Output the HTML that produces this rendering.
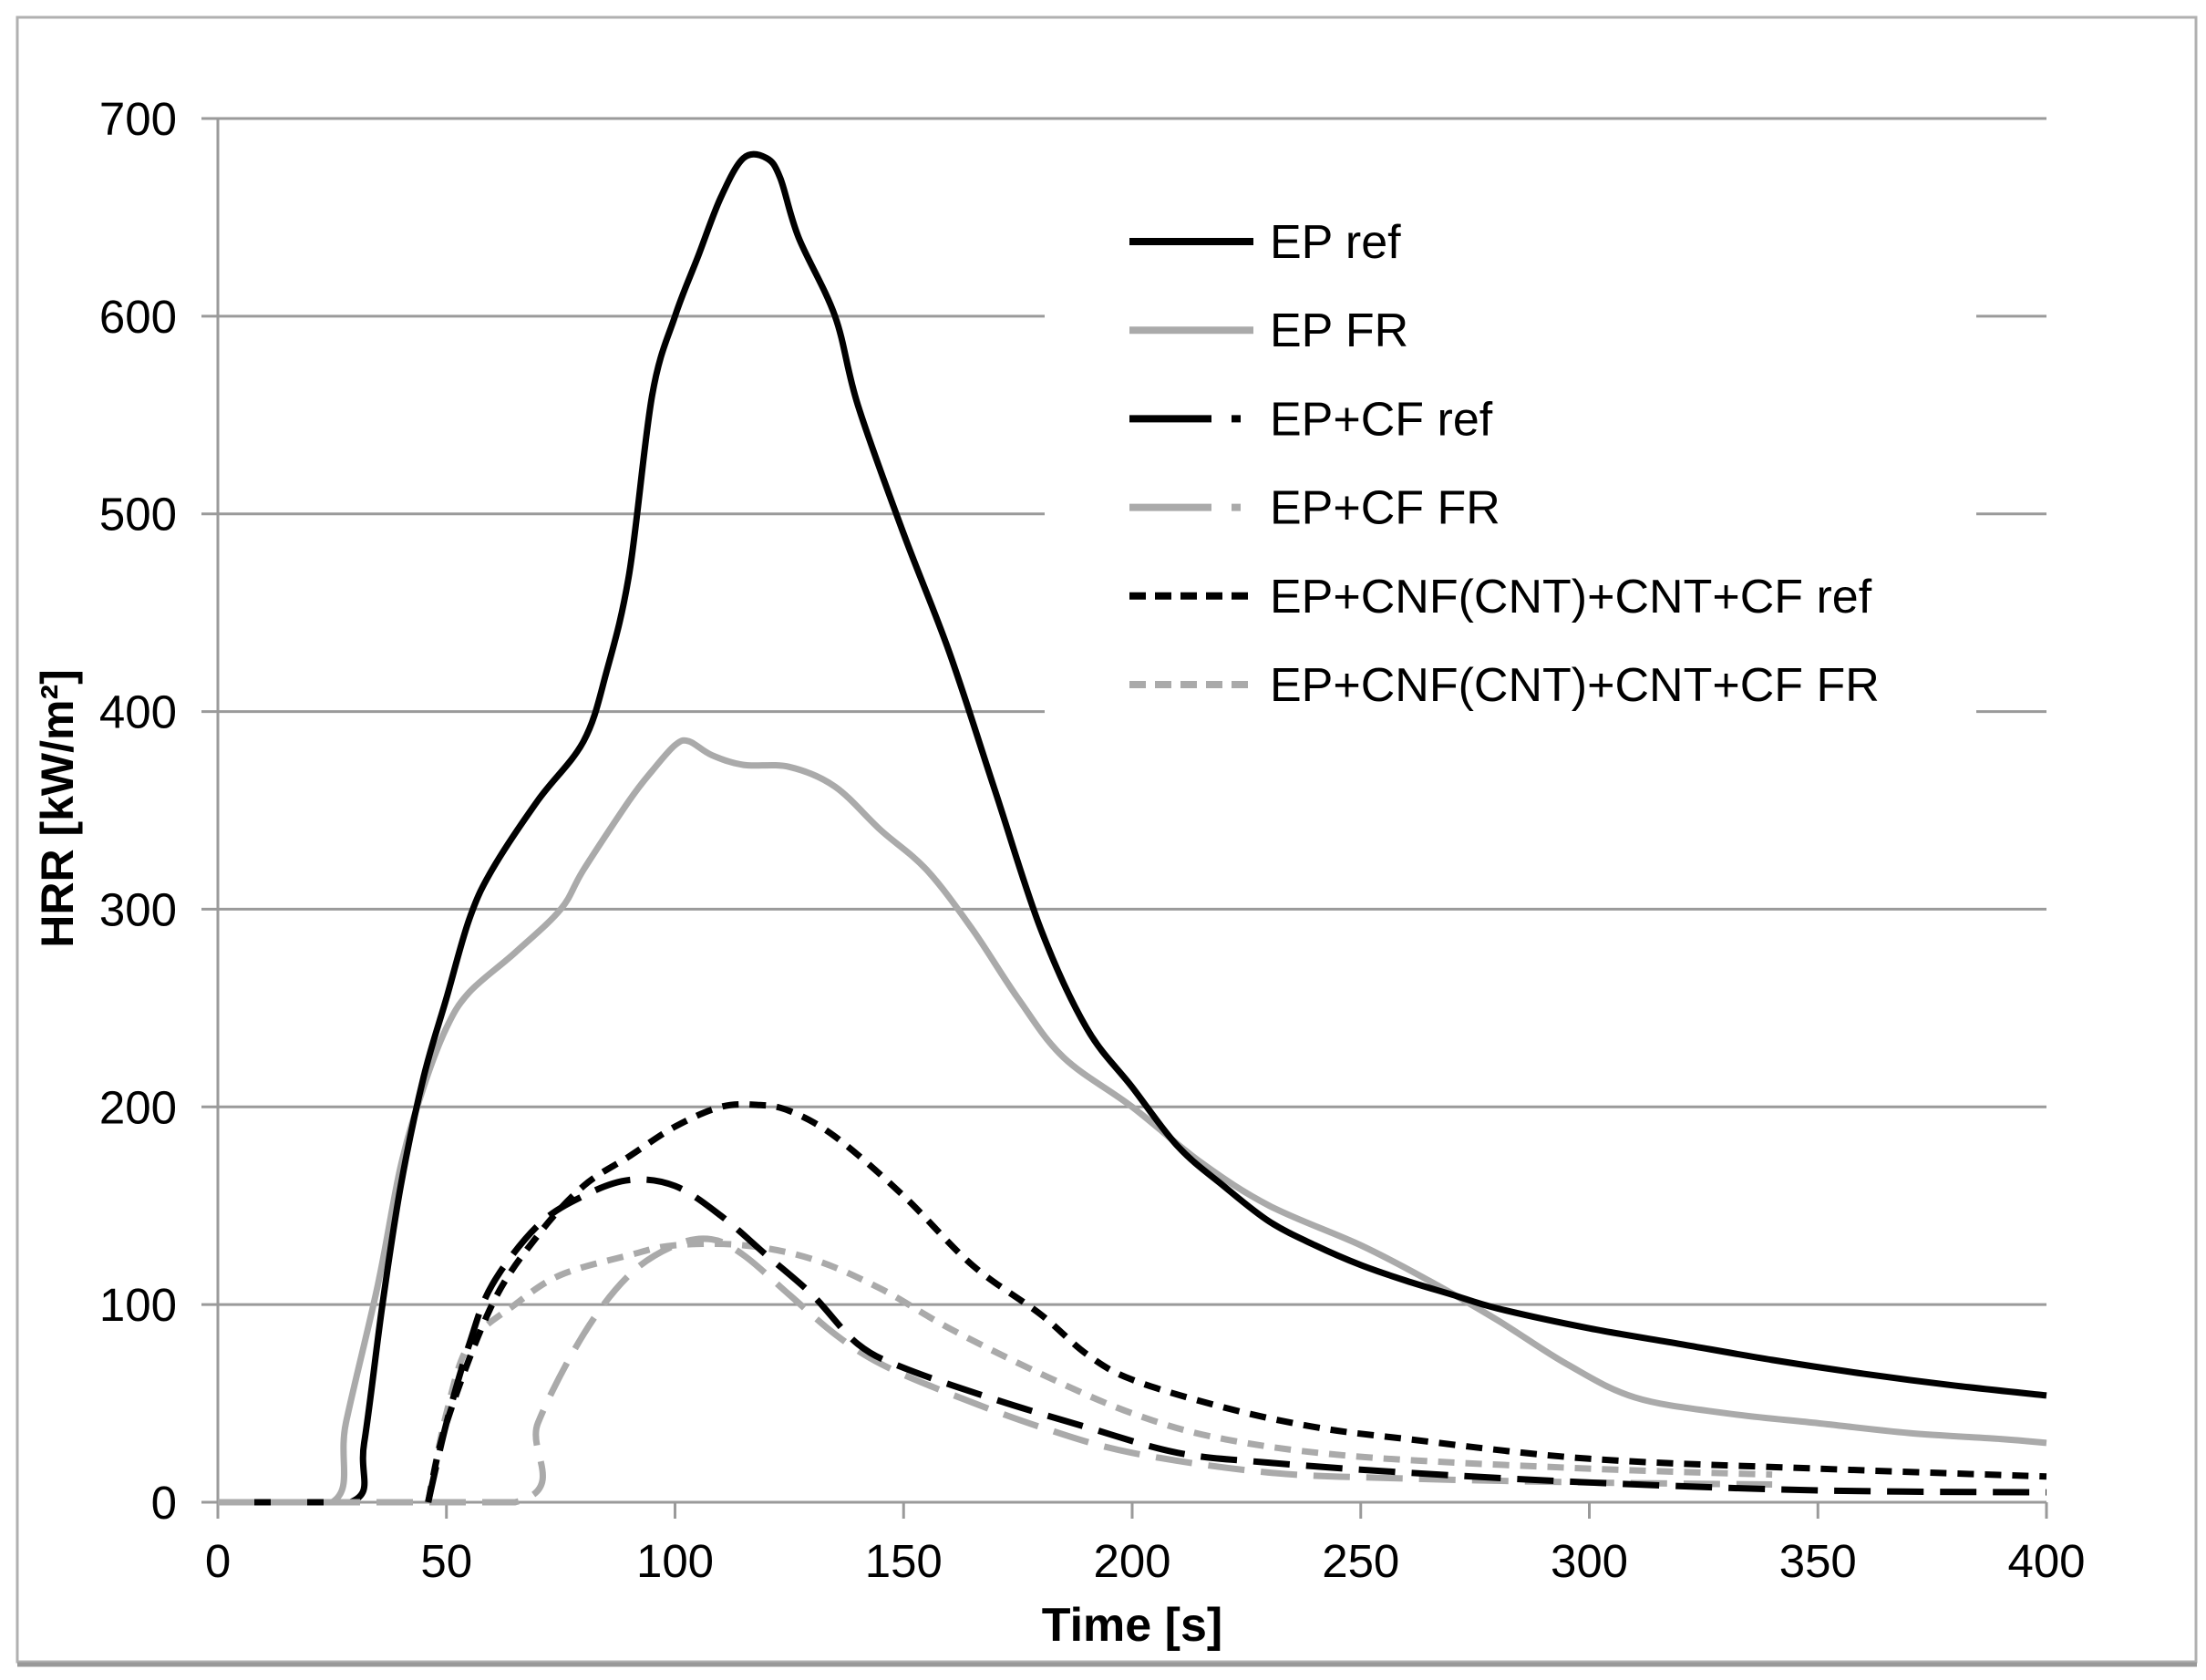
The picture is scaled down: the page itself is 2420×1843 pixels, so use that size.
<!DOCTYPE html>
<html><head><meta charset="utf-8"><style>
html,body{margin:0;padding:0;background:#fff}
svg{display:block}
text{font-family:"Liberation Sans",sans-serif}
</style></head><body>
<svg id="s" width="2420" height="1843" viewBox="0 0 2420 1843" xmlns="http://www.w3.org/2000/svg">
<rect x="0" y="0" width="2420" height="1843" fill="#fff"/>
<rect x="19" y="19" width="2390" height="1804" fill="none" stroke="#b0b0b0" stroke-width="3"/>
<line x1="19" y1="1826" x2="2410" y2="1826" stroke="#999" stroke-width="5"/>
<g id="grid" stroke="#9a9a9a" stroke-width="3"></g>
<g id="ticks" font-size="51" fill="#000"></g>
<g id="series" fill="none" stroke-linejoin="round" stroke-linecap="butt"></g>
<rect x="1146" y="216" width="1022" height="580" fill="#fff"/>
<g id="legend" font-size="52"></g>
<text x="1242" y="1800" font-size="52" font-weight="bold" text-anchor="middle">Time [s]</text>
<text transform="translate(80,887) rotate(-90)" font-size="50" font-weight="bold" text-anchor="middle">HRR [kW/m²]</text>
</svg>
<script>
const NS="http://www.w3.org/2000/svg";
const X0=239,X1=2245,Y0=1648,Y7=130;
const px=t=>X0+(X1-X0)*t/400, py=v=>Y0-(Y0-Y7)*v/700;
function el(tag,attrs,parent,txt){const e=document.createElementNS(NS,tag);for(const k in attrs)e.setAttribute(k,attrs[k]);if(txt!==undefined)e.textContent=txt;parent.appendChild(e);return e;}
const g=document.getElementById('grid'),tk=document.getElementById('ticks');
for(let v=0;v<=700;v+=100){el('line',{x1:X0-18,y1:py(v),x2:X1,y2:py(v)},g);el('text',{x:X0-45,y:py(v)+18,'text-anchor':'end'},tk,v);}
el('line',{x1:X0,y1:Y7,x2:X0,y2:Y0+18},g);
for(let t=0;t<=400;t+=50){el('line',{x1:px(t),y1:Y0,x2:px(t),y2:Y0+18},g);el('text',{x:px(t),y:Y0+82,'text-anchor':'middle'},tk,t);}
const S=document.getElementById('series');
const GR="#aaaaaa";
const series=[
{c:GR,d:"",p:[[0,0],[25,0],[28,40],[35,110],[40,170],[45,210],[50,240],[55,258],[65,278],[75,300],[80,320],[90,355],[95,370],[100,383],[103,385],[108,378],[115,373],[125,372],[135,362],[145,340],[155,320],[165,290],[175,255],[185,225],[200,200],[215,172],[230,150],[250,130],[265,112],[280,92],[295,70],[310,53],[330,45],[350,40],[370,35],[390,32],[400,30]]},
{c:"#000",d:"",p:[[0,0],[29,0],[32,30],[36,100],[40,160],[45,215],[50,255],[55,295],[60,320],[70,355],[80,385],[85,420],[90,470],[95,560],[100,600],[105,630],[110,660],[115,680],[120,680],[123,670],[127,640],[135,600],[140,555],[150,490],[160,430],[170,360],[180,290],[190,240],[200,210],[210,180],[220,160],[230,142],[240,130],[250,120],[260,112],[270,105],[280,98],[300,88],[320,80],[340,72],[360,65],[380,59],[400,54]]},
{c:GR,d:"40 18",p:[[0,0],[65,0],[70,40],[80,85],[90,115],[100,130],[108,133],[115,125],[125,105],[135,85],[145,70],[160,55],[180,38],[200,25],[230,15],[260,12],[300,10],[340,9]]},
{c:GR,d:"18 12",p:[[46,0],[50,45],[55,80],[65,100],[75,115],[90,125],[100,130],[115,130],[130,123],[145,108],[160,88],[180,65],[200,45],[220,32],[250,23],[300,17],[340,14]]},
{c:"#000",d:"40 18",p:[[46,0],[50,40],[55,80],[60,110],[70,140],[80,155],[90,163],[100,160],[110,145],[120,125],[130,105],[140,80],[150,68],[170,52],[190,38],[210,25],[230,20],[260,15],[300,10],[350,6],[400,5]]},
{c:"#000",d:"18 12",p:[[46,0],[50,40],[60,100],[70,135],[80,160],[90,175],[100,190],[110,200],[118,201],[125,198],[135,185],[150,155],[165,120],[180,95],[190,75],[200,62],[220,48],[240,38],[260,32],[300,22],[350,17],[400,13]]}
];
function smooth(pts){let P=pts.map(a=>[px(a[0]),py(a[1])]);let d="M"+P[0][0]+","+P[0][1];
const cl=y=>Math.min(y,Y0);
for(let i=0;i<P.length-1;i++){const p0=P[i-1]||P[i],p1=P[i],p2=P[i+1],p3=P[i+2]||p2;
if(p1[1]===Y0&&p2[1]===Y0){d+=` L${p2[0]},${p2[1]}`;continue;}
d+=` C${p1[0]+(p2[0]-p0[0])/6},${cl(p1[1]+(p2[1]-p0[1])/6)} ${p2[0]-(p3[0]-p1[0])/6},${cl(p2[1]-(p3[1]-p1[1])/6)} ${p2[0]},${p2[1]}`;}return d;}
for(const s of series){const a={d:smooth(s.p),stroke:s.c,'stroke-width':7};if(s.d)a['stroke-dasharray']=s.d;el('path',a,S);}
const L=document.getElementById('legend');
const leg=[["EP ref","#000",""],["EP FR",GR,""],["EP+CF ref","#000","90 22 10 30"],["EP+CF FR",GR,"90 22 10 30"],["EP+CNF(CNT)+CNT+CF ref","#000","18 10"],["EP+CNF(CNT)+CNT+CF FR",GR,"18 10"]];
leg.forEach((l,i)=>{const y=265+i*97.2;const a={x1:1239,y1:y,x2:1375,y2:y,stroke:l[1],'stroke-width':8};if(l[2])a['stroke-dasharray']=l[2];el('line',a,L);el('text',{x:1393,y:y+18},L,l[0]);});
</script>
</body></html>
